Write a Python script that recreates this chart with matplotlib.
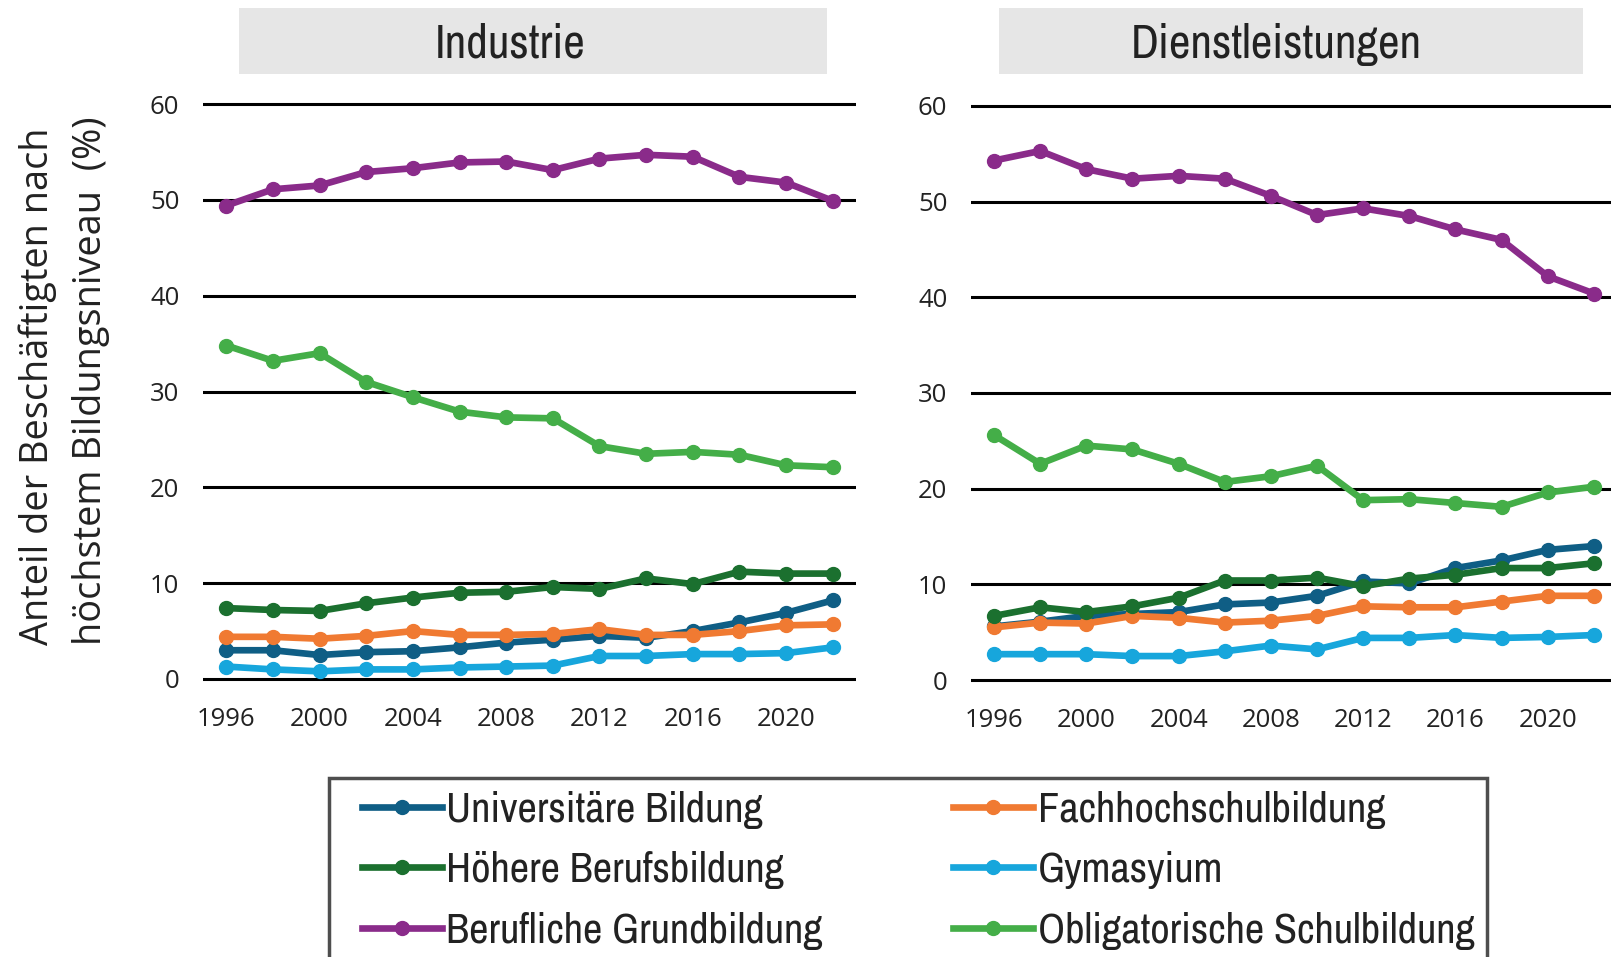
import matplotlib
matplotlib.use("Agg")
import matplotlib.pyplot as plt
from matplotlib import font_manager as fm
from matplotlib.patches import Rectangle
from matplotlib.legend_handler import HandlerLine2D

years = [1996, 1998, 2000, 2002, 2004, 2006, 2008, 2010, 2012, 2014, 2016, 2018, 2020, 2022]

labels = ["Universitäre Bildung", "Höhere Berufsbildung", "Berufliche Grundbildung",
          "Fachhochschulbildung", "Gymasyium", "Obligatorische Schulbildung"]
colors = ["#0f5e85", "#1b702f", "#8a2b8a", "#f07a32", "#17a6dc", "#44ae48"]

# Industrie
ind_uni = [3.0, 3.0, 2.5, 2.8, 2.9, 3.3, 3.8, 4.1, 4.5, 4.3, 5.0, 5.9, 6.9, 8.2]
ind_hoehere = [7.4, 7.2, 7.1, 7.9, 8.5, 9.0, 9.1, 9.6, 9.4, 10.5, 9.9, 11.2, 11.0, 11.0]
ind_grund = [49.4, 51.1, 51.5, 52.9, 53.3, 53.9, 54.0, 53.1, 54.3, 54.7, 54.5, 52.4, 51.8, 49.9]
ind_fh = [4.4, 4.4, 4.2, 4.5, 5.0, 4.6, 4.6, 4.7, 5.2, 4.6, 4.6, 5.0, 5.6, 5.7]
ind_gym = [1.3, 1.0, 0.8, 1.0, 1.0, 1.2, 1.3, 1.4, 2.4, 2.4, 2.6, 2.6, 2.7, 3.3]
ind_oblig = [34.8, 33.2, 34.0, 31.0, 29.4, 27.9, 27.3, 27.2, 24.3, 23.5, 23.7, 23.4, 22.3, 22.1]

# Dienstleistungen
dl_uni = [5.6, 6.1, 6.7, 6.9, 7.1, 7.9, 8.1, 8.8, 10.3, 10.1, 11.7, 12.5, 13.6, 14.0]
dl_hoehere = [6.7, 7.6, 7.1, 7.7, 8.6, 10.4, 10.4, 10.7, 9.8, 10.6, 11.0, 11.7, 11.7, 12.2]
dl_grund = [54.3, 55.3, 53.4, 52.4, 52.7, 52.4, 50.6, 48.6, 49.3, 48.5, 47.1, 46.0, 42.2, 40.4]
dl_fh = [5.5, 6.0, 5.9, 6.7, 6.5, 6.0, 6.2, 6.7, 7.7, 7.6, 7.6, 8.2, 8.8, 8.8]
dl_gym = [2.7, 2.7, 2.7, 2.5, 2.5, 3.0, 3.6, 3.2, 4.4, 4.4, 4.7, 4.4, 4.5, 4.7]
dl_oblig = [25.6, 22.6, 24.5, 24.1, 22.6, 20.7, 21.3, 22.4, 18.8, 18.9, 18.5, 18.1, 19.6, 20.2]

panels = [
    ("Industrie", [ind_uni, ind_hoehere, ind_grund, ind_fh, ind_gym, ind_oblig]),
    ("Dienstleistungen", [dl_uni, dl_hoehere, dl_grund, dl_fh, dl_gym, dl_oblig]),
]


def find_condensed():
    # look for any narrow / condensed face among the installed fonts
    cands = []
    for f in fm.fontManager.ttflist:
        st = str(f.stretch)
        if "Narrow" in f.name or "Condensed" in f.name:
            cands.append((0, f.name, "normal"))
        elif st in ("condensed", "semi-condensed", "extra-condensed") or (st.isdigit() and int(st) < 500):
            cands.append((1, f.name, "condensed"))
    if not cands:
        return None, "normal"
    cands.sort()
    return cands[0][1], cands[0][2]


cond_name, cond_stretch = find_condensed()
narrow = [cond_name, "DejaVu Sans"] if cond_name else ["DejaVu Sans"]
shrink = 1.0 if cond_name else 0.82

W, H = 1611, 957
fig = plt.figure(figsize=(W / 100, H / 100), dpi=100)

tickfont = ["Open Sans", "DejaVu Sans"]


def fx(px):
    return px / W


def fy(py):
    return 1 - py / H


# axes boxes in pixels: left, right, y of 60, y of 0
boxes = [(203, 856, 104, 679), (971, 1617, 106, 680)]
titlebox = [(239, 827, 510), (999, 1583, 1276)]

handles = None
for (title, series), (x0, x1, ytop, ybot), (t0, t1, tc) in zip(panels, boxes, titlebox):
    unit = (ybot - ytop) / 60
    ax = fig.add_axes([fx(x0), fy(ybot + unit * 0.6), (x1 - x0) / W, (ybot - ytop + unit * 1.2) / H])
    # lower series first so the upper ones sit on top like the original
    order = [4, 0, 3, 1, 5, 2]
    drawn = {}
    for i in order:
        ln, = ax.plot(years, series[i], color=colors[i], lw=4.8, marker="o", ms=10,
                      solid_joinstyle="round", label=labels[i], clip_on=False, zorder=3)
        drawn[i] = ln
    handles = [drawn[i] for i in range(6)]
    ax.set_xlim(1995, 2023)
    ax.set_ylim(-0.6, 60.6)
    ax.set_yticks(range(0, 61, 10))
    ax.set_xticks(range(1996, 2021, 4))
    ax.grid(axis="y", color="black", lw=2.2, zorder=1)
    ax.set_axisbelow(True)
    for s in ax.spines.values():
        s.set_visible(False)
    ax.tick_params(length=0, labelsize=18.5, colors="#222222")
    ax.tick_params(axis="y", pad=17)
    ax.tick_params(axis="x", pad=16)
    for lab in ax.get_xticklabels() + ax.get_yticklabels():
        lab.set_family(tickfont)

    fig.add_artist(Rectangle((fx(t0), fy(74)), (t1 - t0) / W, 66 / H,
                             transform=fig.transFigure, facecolor="#e6e6e6", edgecolor="none"))
    fig.text(fx(tc), fy(44), title, ha="center", va="center", fontsize=34 * shrink,
             family=narrow, fontstretch=cond_stretch, color="#222222")

fig.text(fx(64), fy(645), "Anteil der Beschäftigten nach\nhöchstem Bildungsniveau  (%)",
         rotation=90, ha="center", va="bottom", multialignment="left",
         fontsize=27.3, family=tickfont, color="#222222", linespacing=1.52)

legsize = 30.5 * shrink
fs_px = legsize * 100 / 72
xpad = 20 / fs_px
leg = fig.legend(handles, labels, ncol=2, loc="upper left", mode="expand",
                 bbox_to_anchor=(fx(329), fy(778), (1487 - 329) / W, 0),
                 frameon=True, fancybox=False,
                 prop={"family": narrow, "size": legsize, "stretch": cond_stretch},
                 handlelength=100 / fs_px, handletextpad=0.1,
                 labelspacing=0.53, borderpad=0.3, borderaxespad=0,
                 handler_map={h: HandlerLine2D(xpad=xpad) for h in handles})
leg.get_frame().set_edgecolor("#222222")
leg.get_frame().set_linewidth(2.5)
for t in leg.get_texts():
    t.set_color("#222222")

fig.savefig("out.png", dpi=100)
